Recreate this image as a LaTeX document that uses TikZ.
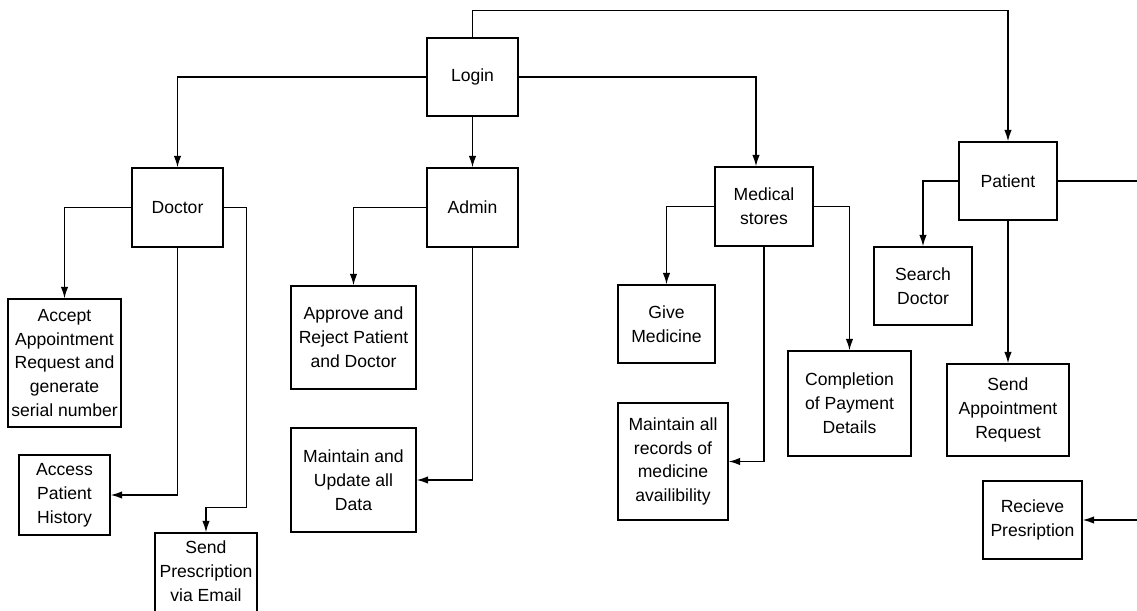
\documentclass[tikz,border=0pt]{standalone}
\usepackage{fontspec}
\setmainfont{Liberation Sans}
\usetikzlibrary{arrows.meta}
\tikzset{
  box/.style={draw, line width=0.8pt, inner sep=0pt, align=center},
  link/.style={line width=0.8pt},
  arrow/.style={link, -{Latex[length=2.3mm,width=1.5mm]}}
}
\begin{document}
\begin{tikzpicture}[x=0.02cm,y=-0.02cm]
\fontsize{10}{13.6}\selectfont
\clip (0,0) rectangle (1137,611);
\useasboundingbox (0,0) rectangle (1137,611);

\node[box, minimum width=1.82cm, minimum height=1.56cm] (login) at (472.5,77) {Login};
\node[box, minimum width=1.82cm, minimum height=1.58cm] (doctor) at (177.5,207.5) {Doctor};
\node[box, minimum width=1.82cm, minimum height=1.58cm] (admin) at (472.5,207.5) {Admin};
\node[box, minimum width=1.96cm, minimum height=1.58cm] (medical) at (764,206.5) {Medical\\stores};
\node[box, minimum width=1.96cm, minimum height=1.56cm] (patient) at (1008,181) {Patient};

\node[box, minimum width=2.26cm, minimum height=2.56cm] (accept) at (64.5,363) {Accept\\Appointment\\Request and\\generate\\serial number};
\node[box, minimum width=1.82cm, minimum height=1.60cm] (access) at (64.5,495) {Access\\Patient\\History};
\node[box, minimum width=2.04cm, minimum height=2.20cm] (sendpres) at (206,588) {};
\node[align=center, inner sep=0pt] (sendprestext) at (206,571) {Send\\Prescription\\via Email};

\node[box, minimum width=2.50cm, minimum height=2.06cm] (approve) at (353.5,337.5) {Approve and\\Reject Patient\\and Doctor};
\node[box, minimum width=2.50cm, minimum height=2.08cm] (maintupd) at (353.5,480) {Maintain and\\Update all\\Data};

\node[box, minimum width=1.94cm, minimum height=1.56cm] (give) at (666.5,324) {Give\\Medicine};
\node[box, minimum width=2.20cm, minimum height=2.34cm] (maintall) at (673,461.5) {Maintain all\\records of\\medicine\\availibility};
\node[box, minimum width=2.46cm, minimum height=2.10cm] (completion) at (849.5,403.5) {Completion\\of Payment\\Details};

\node[box, minimum width=1.96cm, minimum height=1.56cm] (search) at (923,286) {Search\\Doctor};
\node[box, minimum width=2.44cm, minimum height=1.84cm] (sendappt) at (1008,410) {Send\\Appointment\\Request};
\node[box, minimum width=1.98cm, minimum height=1.56cm] (recieve) at (1032.5,520) {Recieve\\Presription};

\coordinate (patientout) at (1137,181);
\coordinate (recievein) at (1137,520);

\draw[arrow] (login.north) -- ++(0,-27) -| (patient.north);
\draw[arrow] (login.west) -| (doctor.north);
\draw[arrow] (login.south) -- (admin.north);
\draw[arrow] (login.east) -| ([xshift=-0.16cm]medical.north);

\draw[arrow] (doctor.west) -| (accept.north);
\draw[arrow] (doctor.south) |- (access.east);
\draw[arrow] (doctor.east) -- ++(23,0) -- ++(0,300) -| (sendpres.north);

\draw[arrow] (admin.west) -| (approve.north);
\draw[arrow] (admin.south) |- (maintupd.east);

\draw[arrow] (medical.west) -| (give.north);
\draw[arrow] (medical.south) |- (maintall.east);
\draw[arrow] (medical.east) -| (completion.north);

\draw[arrow] (patient.west) -| (search.north);
\draw[arrow] (patient.south) -- (sendappt.north);
\draw[link] (patient.east) -- (patientout);
\draw[arrow] (recievein) -- (recieve.east);
\end{tikzpicture}
\end{document}
